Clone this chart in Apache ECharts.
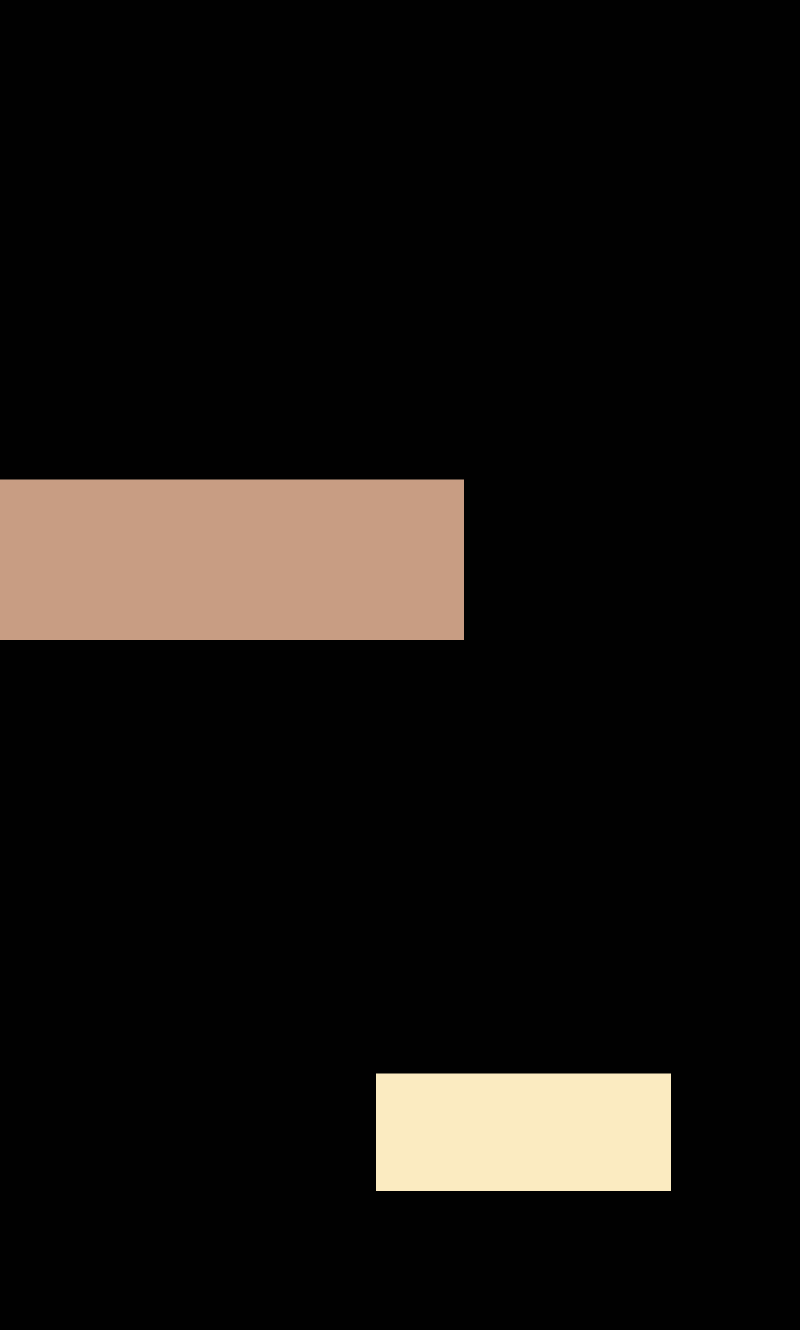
<!DOCTYPE html>
<html>
<head>
<meta charset="utf-8">
<script src="https://cdn.jsdelivr.net/npm/echarts@6/dist/echarts.min.js"></script>
<style>
html,body{margin:0;padding:0;background:#010101;}
#chart{width:800px;height:1330px;}
</style>
</head>
<body>
<div id="chart"></div>
<script>
var blockNames = ['Block A', 'Block B'];
var xStart = [0, 376];
var xEnd = [464, 671];
var yStart = [479.5, 1073.5];
var yEnd = [640, 1191];
var blockColors = ['#C89D83', '#FBEBC1'];

var chart = echarts.init(document.getElementById('chart'), null, {renderer: 'canvas'});
var data = blockNames.map(function (n, i) {
  return {name: n, value: [xStart[i], xEnd[i], yStart[i], yEnd[i]], itemStyle: {color: blockColors[i]}};
});
chart.setOption({
  backgroundColor: '#010101',
  animation: false,
  grid: {left: 0, right: 0, top: 0, bottom: 0},
  xAxis: {type: 'value', min: 0, max: 800, show: false},
  yAxis: {type: 'value', min: 0, max: 1330, inverse: true, show: false},
  series: [{
    type: 'custom',
    renderItem: function (params, api) {
      var p0 = api.coord([api.value(0), api.value(2)]);
      var p1 = api.coord([api.value(1), api.value(3)]);
      return {
        type: 'rect',
        shape: {x: p0[0], y: p0[1], width: p1[0] - p0[0], height: p1[1] - p0[1]},
        style: {fill: api.visual('color')}
      };
    },
    encode: {x: [0, 1], y: [2, 3]},
    data: data
  }]
});
</script>
</body>
</html>
